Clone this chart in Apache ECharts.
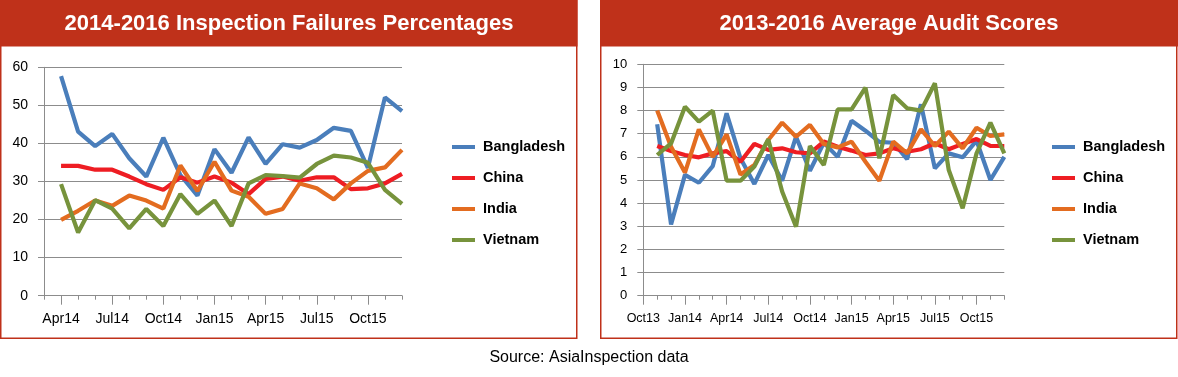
<!DOCTYPE html>
<html>
<head>
<meta charset="utf-8">
<script src="https://cdn.jsdelivr.net/npm/echarts@6/dist/echarts.min.js"></script>
<style>
html,body{margin:0;padding:0;background:#fff;}
#c{width:1178px;height:377px;}
</style>
</head>
<body>
<div id="c"></div>
<script>
// ---- Data ----
const seriesNames = ['Bangladesh', 'China', 'India', 'Vietnam'];

// Left chart: 2014-2016 Inspection Failures Percentages (first slot Mar14 is empty)
const leftCategories = ['Mar14','Apr14','May14','Jun14','Jul14','Aug14','Sep14','Oct14','Nov14','Dec14',
  'Jan15','Feb15','Mar15','Apr15','May15','Jun15','Jul15','Aug15','Sep15','Oct15','Nov15','Dec15'];
const leftBangladesh = [null,57.7,43.1,39.3,42.5,36.1,31.3,41.5,31.7,26.3,38.5,32.3,41.6,34.6,39.8,38.9,40.9,44.1,43.3,33.6,52.1,48.5];
const leftChina      = [null,34.1,34.1,33.1,33.1,31.3,29.3,27.8,31.1,29.7,31.3,29.7,26.7,30.7,31.3,30.2,31.1,31.1,28.0,28.2,29.5,32.0];
const leftIndia      = [null,19.9,22.3,25.0,23.6,26.3,25.0,22.9,34.2,27.5,35.2,27.6,26.0,21.5,22.8,29.5,28.2,25.3,29.5,32.8,33.7,38.3];
const leftVietnam    = [null,29.3,16.6,25.1,22.9,17.7,22.8,18.3,26.7,21.5,25.0,18.3,29.5,31.7,31.4,31.0,34.6,36.8,36.3,34.9,27.8,24.1];

// Right chart: 2013-2016 Average Audit Scores (first slot Oct13 is empty)
const rightCategories = ['Oct13','Nov13','Dec13','Jan14','Feb14','Mar14','Apr14','May14','Jun14','Jul14','Aug14','Sep14',
  'Oct14','Nov14','Dec14','Jan15','Feb15','Mar15','Apr15','May15','Jun15','Jul15','Aug15','Sep15','Oct15','Nov15','Dec15'];
const rightBangladesh = [null,7.41,3.08,5.22,4.88,5.6,7.88,5.94,4.83,6.08,4.97,6.87,5.4,6.61,6.0,7.56,7.13,6.65,6.61,5.9,8.27,5.5,6.15,5.98,6.7,5.0,6.0];
const rightChina      = [null,6.47,6.25,6.08,5.98,6.15,6.25,5.79,6.56,6.3,6.37,6.2,6.15,6.66,6.44,6.27,6.08,6.15,6.37,6.22,6.33,6.59,6.33,6.56,6.77,6.47,6.47];
const rightIndia      = [null,8.0,6.44,5.32,7.19,6.0,6.97,5.24,5.65,6.73,7.48,6.87,7.38,6.56,6.41,6.66,5.79,4.97,6.66,6.15,7.19,6.47,7.09,6.37,7.26,6.9,6.97];
const rightVietnam    = [null,6.08,6.58,8.17,7.52,8.0,4.97,4.97,5.58,6.76,4.5,2.98,6.47,5.65,8.05,8.05,8.99,5.94,8.67,8.1,8.0,9.18,5.43,3.78,6.15,7.48,6.15];

const leftTitle = '2014-2016 Inspection Failures Percentages';
const rightTitle = '2013-2016 Average Audit Scores';
const sourceText = 'Source: AsiaInspection data';

// ---- Styling ----
const colors = ['#4A7EBB', '#EE1D23', '#E36C20', '#77933C'];
const RED = '#BF311A';
const GRID = '#8C8C8C';
const FONT = 'Liberation Sans, Arial, sans-serif';

const chart = echarts.init(document.getElementById('c'), null, {renderer: 'canvas'});

function xAxes(cats, gridIndex, labelFn, fontSize) {
  return [
    {
      type: 'category', gridIndex: gridIndex, data: cats, boundaryGap: false,
      axisLine: {lineStyle: {color: GRID, width: 1}},
      axisTick: {show: true, interval: 0, length: 4, lineStyle: {color: GRID}},
      axisLabel: {interval: labelFn, color: '#000', fontFamily: FONT, fontSize: fontSize, margin: 16},
      splitLine: {show: false}
    },
    {
      type: 'category', gridIndex: gridIndex, data: cats, boundaryGap: false, position: 'bottom',
      axisLine: {show: false},
      axisTick: {show: true, interval: labelFn, length: 9, lineStyle: {color: GRID}},
      axisLabel: {show: false},
      splitLine: {show: false}
    }
  ];
}

function yAxis(gridIndex, max, interval, fontSize) {
  return {
    type: 'value', gridIndex: gridIndex, min: 0, max: max, interval: interval,
    axisLine: {show: true, lineStyle: {color: GRID}},
    axisTick: {show: true, length: 6, lineStyle: {color: GRID}},
    axisLabel: {color: '#000', fontFamily: FONT, fontSize: fontSize, margin: 16},
    splitLine: {show: true, lineStyle: {color: GRID, width: 1}}
  };
}

function mkSeries(name, data, idx, xIdx, yIdx) {
  return {
    name: name, type: 'line', data: data, xAxisIndex: xIdx, yAxisIndex: yIdx,
    showSymbol: false, symbol: 'none', smooth: false, connectNulls: false,
    lineStyle: {width: 4.2, color: colors[idx]}, itemStyle: {color: colors[idx]},
    emphasis: {disabled: true}, animation: false
  };
}

const leftData = [leftBangladesh, leftChina, leftIndia, leftVietnam];
const rightData = [rightBangladesh, rightChina, rightIndia, rightVietnam];

const series = [];
seriesNames.forEach((n, i) => series.push(mkSeries(n, leftData[i], i, 0, 0)));
seriesNames.forEach((n, i) => series.push(mkSeries(n, rightData[i], i, 2, 1)));

function legend(left) {
  return {
    orient: 'vertical', left: left, top: 139, padding: 0,
    icon: 'rect', itemWidth: 23, itemHeight: 4, itemGap: 15,
    data: seriesNames, selectedMode: false,
    textStyle: {fontFamily: FONT, fontSize: 14.5, fontWeight: 'bold', color: '#000', lineHeight: 16, padding: [0,0,0,3]}
  };
}

const option = {
  animation: false,
  color: colors,
  textStyle: {fontFamily: FONT},
  graphic: [
    {type: 'rect', shape: {x: 0.75, y: 0.75, width: 576, height: 337.5}, style: {fill: '#fff', stroke: RED, lineWidth: 1.5}, z: -10},
    {type: 'rect', shape: {x: 0, y: 0, width: 577.5, height: 46.5}, style: {fill: RED}, z: -9},
    {type: 'rect', shape: {x: 600.75, y: 0.75, width: 576, height: 337.5}, style: {fill: '#fff', stroke: RED, lineWidth: 1.5}, z: -10},
    {type: 'rect', shape: {x: 600, y: 0, width: 578, height: 46.5}, style: {fill: RED}, z: -9}
  ],
  title: [
    {text: leftTitle, left: 289, top: 13, textAlign: 'center', padding: 0,
     textStyle: {color: '#fff', fontFamily: FONT, fontSize: 22, fontWeight: 'bold'}},
    {text: rightTitle, left: 889, top: 13, textAlign: 'center', padding: 0,
     textStyle: {color: '#fff', fontFamily: FONT, fontSize: 22, fontWeight: 'bold'}},
    {text: sourceText, left: 589, top: 350, textAlign: 'center', padding: 0,
     textStyle: {color: '#000', fontFamily: FONT, fontSize: 16, fontWeight: 'normal'}}
  ],
  legend: [legend(452), legend(1052)],
  grid: [
    {left: 44, top: 67.3, width: 358, height: 228.4, containLabel: false},
    {left: 643.3, top: 64.3, width: 361, height: 231.4, containLabel: false}
  ],
  xAxis: [
    ...xAxes(leftCategories, 0, (i) => (i - 1) % 3 === 0 && i >= 1, 14),
    ...xAxes(rightCategories, 1, (i) => i % 3 === 0, 12.5)
  ],
  yAxis: [yAxis(0, 60, 10, 14), yAxis(1, 10, 1, 13)],
  series: series
};

chart.setOption(option);
</script>
</body>
</html>
